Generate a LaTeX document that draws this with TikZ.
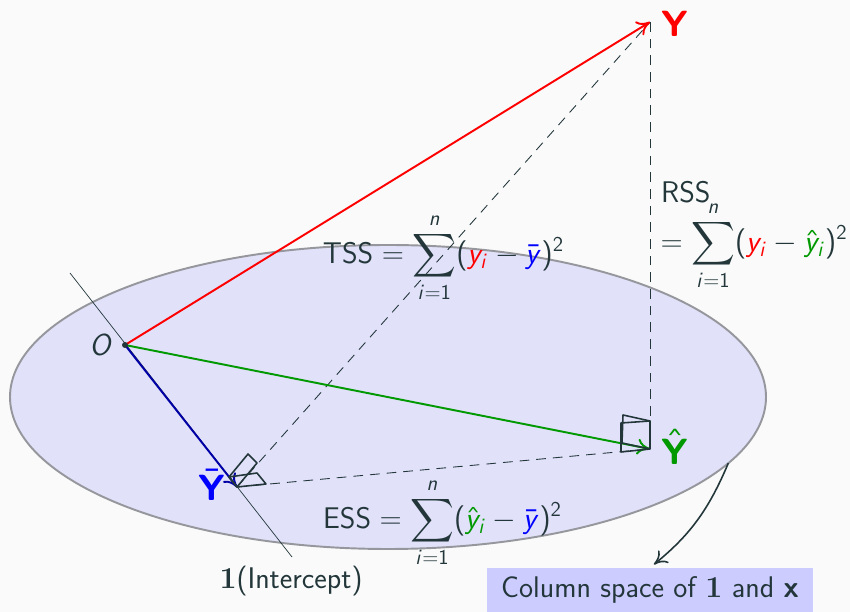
\documentclass[tikz,border=0pt]{standalone}
\usepackage{amsmath}
\usepackage{xcolor}
\usepackage{tikz}
\usetikzlibrary{shapes.geometric,arrows.meta,positioning}
\renewcommand{\familydefault}{\sfdefault}
\SetSymbolFont{letters}{normal}{OT1}{cmss}{m}{sl}
\SetSymbolFont{operators}{normal}{OT1}{cmss}{m}{n}
\DeclareMathAlphabet{\mathbsf}{OT1}{cmss}{bx}{n}
\definecolor{bgcol}{HTML}{FAFAFA}
\definecolor{inkcol}{HTML}{23373B}
\definecolor{planecol}{HTML}{E1E1FA}
\definecolor{rimcol}{HTML}{96979D}
\definecolor{boxcol}{HTML}{CCCCFF}
\definecolor{vecgreen}{HTML}{009900}

\begin{document}
\begin{tikzpicture}[
  every node/.style={font=\fontsize{17}{20}\selectfont, text=inkcol},
  vec/.style={-{To[length=2.6mm,width=3.2mm]}, line width=1.1pt},
  gap/.style={dashed, inkcol, line width=0.5pt, dash pattern=on 5.5pt off 4pt},
  rightmark/.style={draw=inkcol, line width=0.9pt, line join=round},
  head/.style={font=\fontsize{22.5}{26}\selectfont}
]
  \useasboundingbox[fill=bgcol] (0,0) rectangle (17,12.24);

  \node[draw=rimcol, fill=planecol, ellipse, line width=1.1pt, inner sep=0pt, outer sep=0pt, minimum width=15.12cm, minimum height=6.08cm] (plane) at (7.76,4.3) {};

  \coordinate (O) at (2.5,5.34);
  \coordinate (Y) at (13,11.8);
  \coordinate (Yhat) at (13,3.26);
  \coordinate (Ybar) at (4.74,2.5);
  \coordinate (lineA) at (1.4,6.78);
  \coordinate (lineB) at (5.84,1.1);

  \draw[inkcol, line width=0.4pt] (lineA) -- (lineB);
  \draw[gap] (Ybar) -- (Y);
  \draw[gap] (Ybar) -- (Yhat);
  \draw[gap] (Yhat) -- (Y);
  \draw[vec, red] (O) -- (Y);
  \draw[vec, vecgreen] (O) -- (Yhat);
  \draw[vec, blue!65!black] (O) -- (Ybar);

  % right angle marks
  \draw[rightmark] (Yhat) -- (12.44,3.38) -- (12.46,3.94) -- (13,3.82);
  \draw[rightmark] (Yhat) -- (12.42,3.2) -- (12.42,3.78) -- (13,3.82) -- cycle;
  \draw[rightmark] (Ybar) -- (4.58,2.7) -- (4.96,3.16) -- (5.14,2.98) -- cycle;
  \draw[rightmark] (Ybar) -- (4.58,2.7) -- (5.14,2.78) -- (5.32,2.56) -- cycle;

  \fill[inkcol] (O) circle (0.06);

  \node[left=0.12cm of O] (Olabel) {$O$};
  \node[head, text=red] (Ylabel) at (13.5,11.76) {$\mathbsf{Y}$};
  \node[head, text=vecgreen] (Yhatlabel) at (13.5,3.3) {$\hat{\mathbsf{Y}}$};
  \node[head, text=blue] (Ybarlabel) at (4.24,2.54) {$\bar{\mathbsf{Y}}$};

  \node (tss) at (8.87,7.08) {$\displaystyle\text{TSS}=\sum_{i=1}^{n}({\color{red}y_i}-{\color{blue}\bar{y}})^2$};
  \node (ess) at (8.85,1.78) {$\displaystyle\text{ESS}=\sum_{i=1}^{n}({\color{vecgreen}\hat{y}_i}-{\color{blue}\bar{y}})^2$};
  \node[anchor=west] (rsstop) at (13.1,8.4) {RSS};
  \node (rss) at (15.08,7.32) {$\displaystyle=\sum_{i=1}^{n}({\color{red}y_i}-{\color{vecgreen}\hat{y}_i})^2$};
  \node (intercept) at (5.82,0.62) {$\mathbf{1}$(Intercept)};

  \node[fill=boxcol, minimum width=6.52cm, minimum height=0.88cm, inner sep=0pt] (colbox) at (13,0.44) {Column space of $\mathbf{1}$ and $\mathbsf{x}$};
  \draw[inkcol, line width=0.9pt, -{To[length=2.6mm,width=3.2mm]}, shorten >=0.1cm] (plane.-11) to[bend left=14] (colbox.north);
\end{tikzpicture}
\end{document}
